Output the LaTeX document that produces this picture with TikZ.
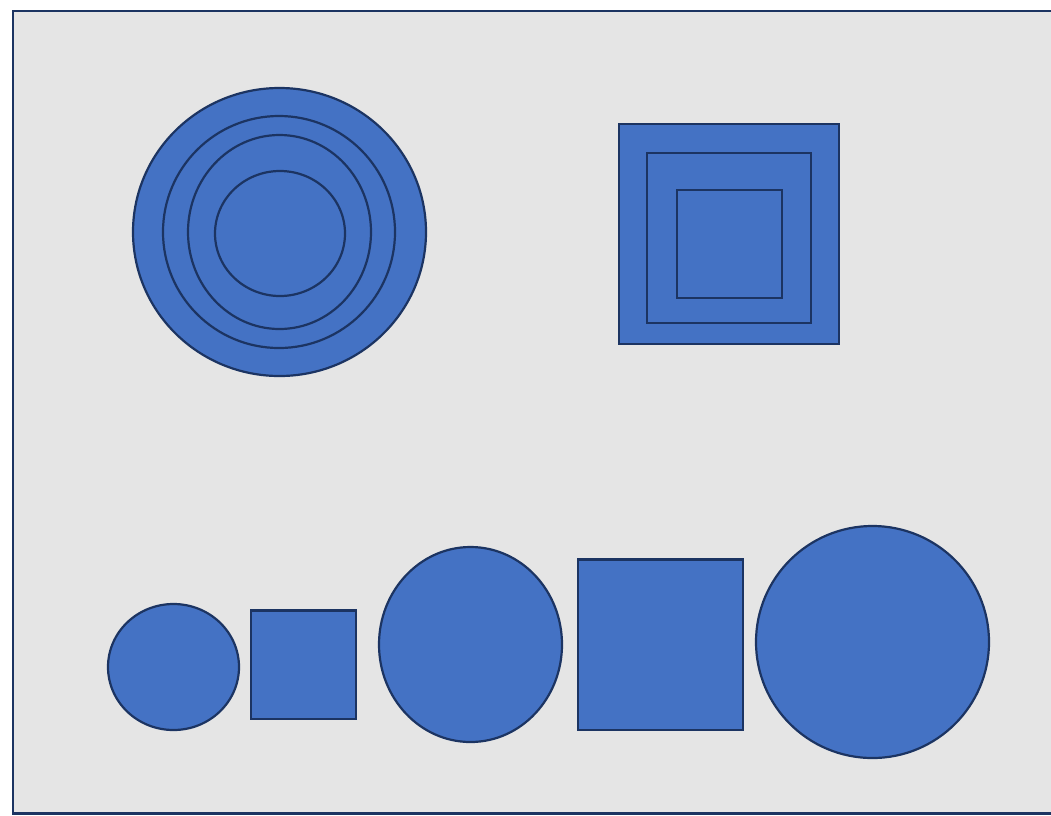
\documentclass[tikz,border=0pt]{standalone}
\definecolor{fillblue}{HTML}{4472C4}
\definecolor{edgeblue}{HTML}{1C3462}
\definecolor{bggray}{HTML}{E5E5E5}
\tikzset{
  shp/.style={fill=fillblue, draw=edgeblue, line width=2.2pt},
  ring/.style={draw=edgeblue, line width=2.2pt},
}
\begin{document}
\begin{tikzpicture}[x=1pt,y=-1pt]
\useasboundingbox (0,0) rectangle (1051,815);
\fill[white] (0,0) rectangle (1051,815);
\draw[fill=bggray, draw=edgeblue, line width=2.5pt] (13,11) rectangle (1060,813.5);
% concentric circles
\draw[shp] (279.5,232) ellipse [x radius=146.5, y radius=144];
\draw[ring] (279,232) ellipse [x radius=116, y radius=116];
\draw[ring] (279.5,232) ellipse [x radius=91.5, y radius=97];
\draw[ring] (280,233.5) ellipse [x radius=65, y radius=62.5];
% concentric squares
\draw[shp] (619,124) rectangle (839,344);
\draw[ring] (647,153) rectangle (811,323);
\draw[ring] (677,190) rectangle (782,298);
% bottom row
\draw[shp] (173.5,667) ellipse [x radius=65.5, y radius=63];
\draw[shp] (251,610.5) rectangle (356,719);
\draw[shp] (470.5,644.5) ellipse [x radius=91.5, y radius=97.5];
\draw[shp] (578,559.5) rectangle (743,730);
\draw[shp] (872.5,642) ellipse [x radius=116.5, y radius=116];
\end{tikzpicture}
\end{document}
